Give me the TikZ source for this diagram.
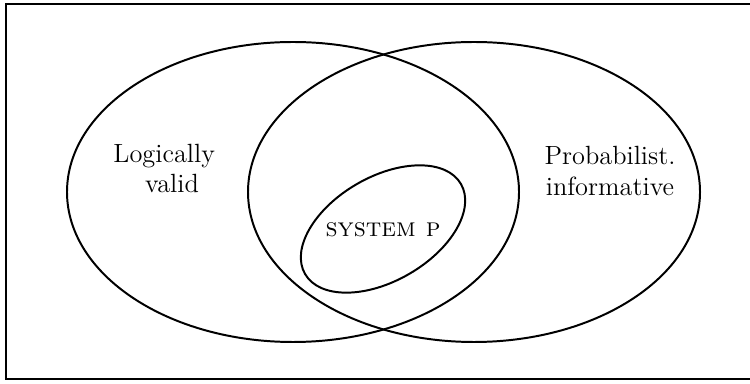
\documentclass[tikz,border=0pt]{standalone}
\usepackage{amsmath,amssymb}
\usepackage{tikz}

\begin{document}
\begin{tikzpicture}[x=0.016cm,y=0.016cm,
    venn/.style={line width=0.9pt},
    lbl/.style={inner sep=0pt,font=\large}]
        \useasboundingbox (0, 0) rectangle (750, 383);
        \draw [line width=1pt] (6, 4) rectangle (756, 379);

        % Sets
        \draw [venn] (293, 191) ellipse (226 and 150);
        \draw [venn] (474, 191) ellipse (226 and 150);
        \draw [venn, rotate around={30:(383, 154)}] (383, 154) ellipse (90 and 52);

        % Labels
        \node (logic) [lbl, align=left, anchor=west] at (113, 214.5) {Logically\\\hspace*{1.2em}valid};
        \node (prob) [lbl, align=center] at (610, 212) {Probabilist.\\informative};
        \node (sysp) [lbl] at (383, 153.5) {\textsc{system p}};
      \end{tikzpicture}
\end{document}
